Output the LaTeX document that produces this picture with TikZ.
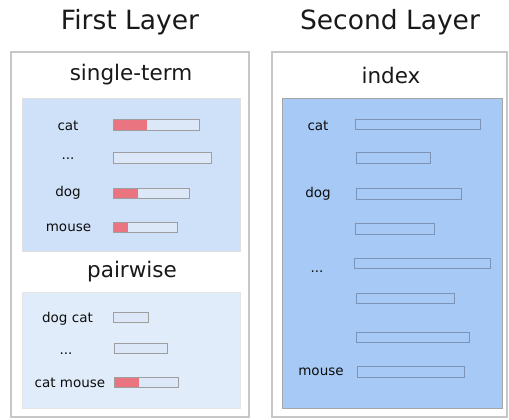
\documentclass[tikz,border=0pt]{standalone}
\usepackage{fontspec}
\setmainfont{DejaVu Sans}
\begin{document}
\begin{tikzpicture}[x=1pt,y=-1pt,
  outerbox/.style={draw=black!22, line width=2.5pt, fill=white},
  title/.style={font=\fontsize{26.5}{30}\selectfont, text=black!90},
  subtitle/.style={font=\fontsize{21.5}{25}\selectfont, text=black!90},
  lbl/.style={font=\fontsize{13.5}{16}\selectfont, text=black!95, inner sep=0pt, anchor=base},
  barA/.style={draw=black!38, line width=0.9pt, fill=barfill, anchor=west, minimum height=10.5pt, inner sep=0pt},
  barB/.style={draw=idxline, line width=0.9pt, fill=idxfill, anchor=west, minimum height=10.5pt, inner sep=0pt},
  redpart/.style={path picture={\fill[barred] (path picture bounding box.south west) rectangle ([xshift=#1]path picture bounding box.north west);}}
]
\definecolor{barred}{HTML}{EA7580}
\definecolor{stfill}{HTML}{CFE1F9}
\definecolor{pwfill}{HTML}{E1ECFA}
\definecolor{idxfill}{HTML}{A6C9F5}
\definecolor{idxline}{HTML}{7D93B5}
\definecolor{barfill}{HTML}{DCE8F8}
\useasboundingbox (0,0) rectangle (509,420);

% titles
\node[title] (t1) at (130,22) {First Layer};
\node[title] (t2) at (390,22) {Second Layer};

% outer boxes
\draw[outerbox] (11,52) rectangle (249,417);
\draw[outerbox] (272,52) rectangle (507,417);

% single-term panel
\node[subtitle] (st) at (131,75) {single-term};
\draw[draw=black!12, line width=1pt, fill=stfill] (22.5,98.5) rectangle (240,251);
\node[lbl] (l1) at (68,131) {cat};
\node[barA, minimum width=86pt, redpart=34pt] (b1) at (112.5,125) {};
\node[lbl] (l2) at (68,159.5) {...};
\node[barA, minimum width=98pt] (b2) at (112.5,158) {};
\node[lbl] (l3) at (68,196.5) {dog};
\node[barA, minimum width=76pt, redpart=25pt] (b3) at (112.5,193.5) {};
\node[lbl] (l4) at (68.5,231.5) {mouse};
\node[barA, minimum width=64pt, redpart=15pt] (b4) at (112.5,227.5) {};

% pairwise panel
\node[subtitle] (pw) at (132,272) {pairwise};
\draw[draw=black!10, line width=1pt, fill=pwfill] (22.5,292.5) rectangle (240.5,408);
\node[lbl] (p1) at (67.5,322) {dog cat};
\node[barA, minimum width=35pt] (pb1) at (112.5,317.5) {};
\node[lbl] (p2) at (66,354.3) {...};
\node[barA, minimum width=53pt] (pb2) at (113.5,348.5) {};
\node[lbl] (p3) at (70,387.7) {cat mouse};
\node[barA, minimum width=64pt, redpart=25pt] (pb3) at (114,382.5) {};

% index panel
\node[subtitle] (ix) at (391,75) {index};
\draw[draw=black!35, line width=1pt, fill=idxfill] (282.5,98.5) rectangle (502,408);
\node[lbl] (i1) at (318,130.5) {cat};
\node[barB, minimum width=125pt] (ib1) at (355,124.5) {};
\node[barB, minimum width=74pt] (ib2) at (355.5,158) {};
\node[lbl] (i2) at (318,197) {dog};
\node[barB, minimum width=105pt] (ib3) at (355.5,194) {};
\node[barB, minimum width=79pt] (ib4) at (355,229) {};
\node[lbl] (i3) at (317,272.3) {...};
\node[barB, minimum width=136pt] (ib5) at (354,263.5) {};
\node[barB, minimum width=98pt] (ib6) at (356,298.5) {};
\node[barB, minimum width=113pt] (ib7) at (356,337.5) {};
\node[lbl] (i4) at (321,375.7) {mouse};
\node[barB, minimum width=107pt] (ib8) at (357,372) {};
\end{tikzpicture}
\end{document}
